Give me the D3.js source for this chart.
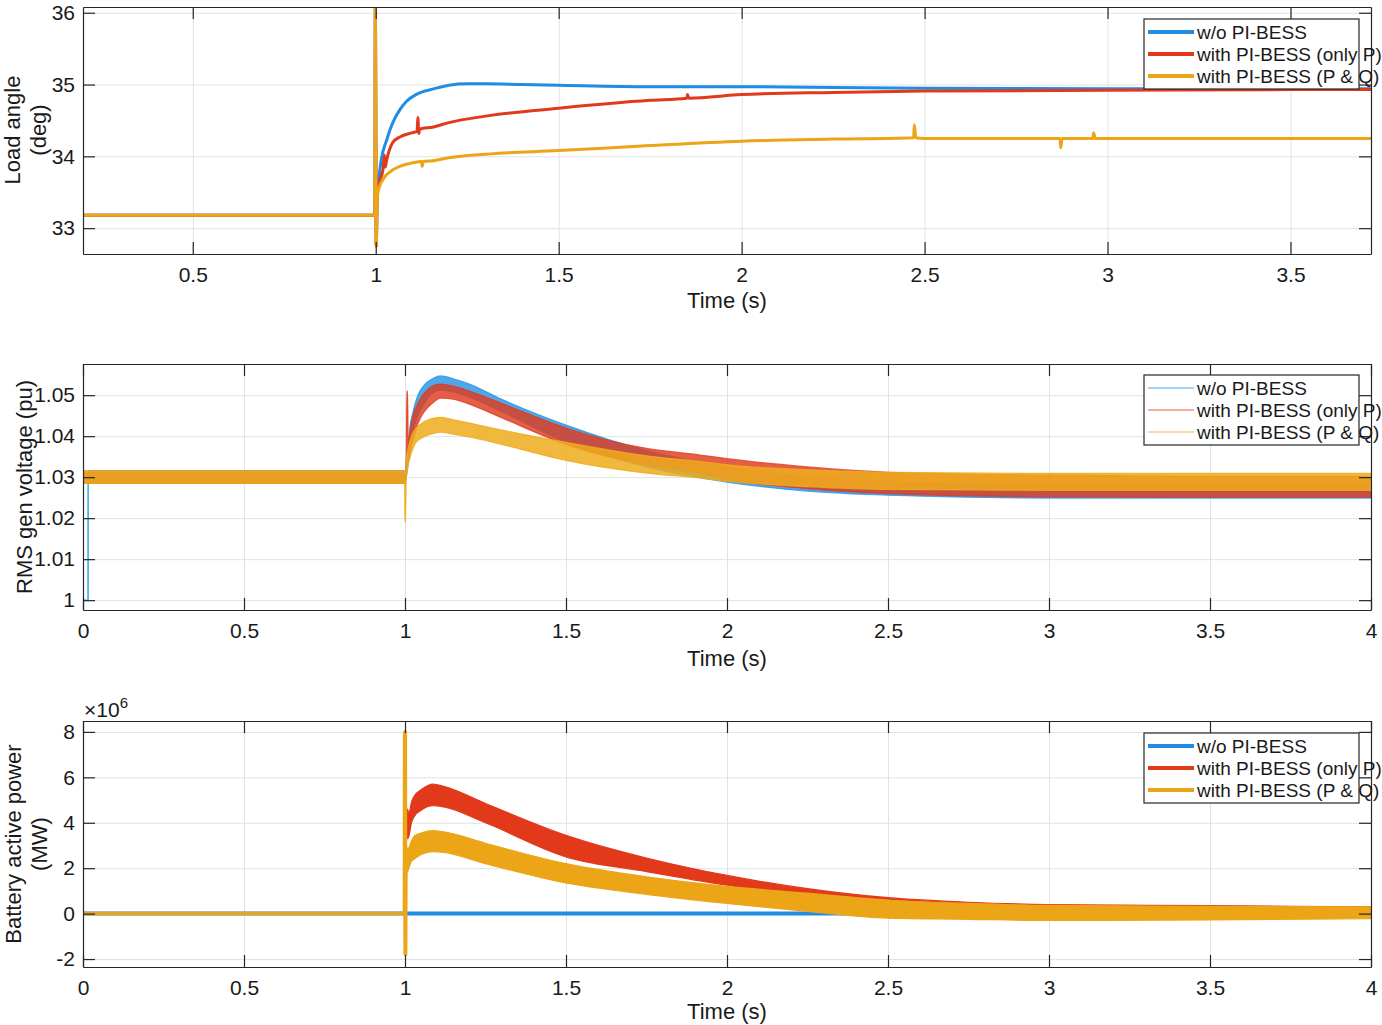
<!DOCTYPE html>
<html><head><meta charset="utf-8">
<script src="https://cdn.jsdelivr.net/npm/d3@7"></script>
<style>
body{margin:0;background:#fff}
svg text{font-family:"Liberation Sans",Arial,sans-serif;fill:#1a1a1a}
</style>
</head><body>
<svg id="chart" width="1382" height="1025"></svg>
<script>
// ---------- legend / labels ----------
const seriesNames = ["w/o PI-BESS", "with PI-BESS (only P)", "with PI-BESS (P & Q)"];
const seriesColors = ["#1f8ce6", "#e2391b", "#eca516"];

// ---------- Panel 1: Load angle (deg) ----------
const p1XTicks = [0.5, 1, 1.5, 2, 2.5, 3, 3.5];
const p1YTicks = [33, 34, 35, 36];
const laBlueT = [0.2, 0.998, 0.999, 1.0015, 1.004, 1.008, 1.015, 1.03, 1.045, 1.066, 1.085, 1.11, 1.135, 1.158, 1.2, 1.25, 1.3, 1.4, 1.5, 1.75, 2.0, 2.25, 2.5, 3.0, 3.5, 3.72];
const laBlue  = [33.18, 33.18, 36.1, 32.75, 33.5, 33.67, 33.95, 34.23, 34.45, 34.65, 34.77, 34.86, 34.91, 34.94, 34.99, 35.01, 35.01, 35.0, 34.99, 34.97, 34.97, 34.96, 34.95, 34.94, 34.94, 34.94];
const laRedT = [0.2, 0.998, 0.999, 1.0015, 1.004, 1.008, 1.02, 1.024, 1.026, 1.03, 1.046, 1.066, 1.101, 1.113, 1.115, 1.118, 1.12, 1.158, 1.2, 1.3, 1.5, 1.75, 1.85, 1.852, 1.856, 2.0, 2.25, 2.5, 3.0, 3.5, 3.72];
const laRed  = [33.18, 33.18, 36.1, 32.75, 33.45, 33.6, 33.82, 34.02, 33.85, 33.95, 34.19, 34.27, 34.33, 34.35, 34.54, 34.32, 34.38, 34.41, 34.47, 34.56, 34.67, 34.78, 34.81, 34.86, 34.81, 34.86, 34.89, 34.91, 34.92, 34.93, 34.93];
const laOrangeT = [0.2, 0.998, 0.999, 1.0015, 1.004, 1.008, 1.02, 1.046, 1.066, 1.101, 1.125, 1.127, 1.13, 1.158, 1.2, 1.3, 1.5, 1.75, 2.0, 2.25, 2.47, 2.472, 2.476, 2.5, 2.75, 2.87, 2.872, 2.876, 2.96, 2.962, 2.966, 3.0, 3.5, 3.72];
const laOrange  = [33.18, 33.18, 36.1, 32.75, 33.4, 33.54, 33.68, 33.81, 33.86, 33.91, 33.93, 33.86, 33.93, 33.94, 33.98, 34.03, 34.08, 34.15, 34.21, 34.24, 34.26, 34.44, 34.26, 34.25, 34.25, 34.25, 34.12, 34.25, 34.25, 34.33, 34.25, 34.25, 34.25, 34.25];

// ---------- Panel 2: RMS gen voltage (pu), oscillation envelopes ----------
const p2XTicks = [0, 0.5, 1, 1.5, 2, 2.5, 3, 3.5, 4];
const p2YTicks = [1, 1.01, 1.02, 1.03, 1.04, 1.05];
const vBlueT  = [0, 0.016, 0.0165, 0.5, 0.999, 1.0, 1.004, 1.008, 1.015, 1.025, 1.04, 1.06, 1.085, 1.11, 1.15, 1.2, 1.3, 1.5, 1.75, 2.0, 2.25, 2.5, 3.0, 3.5, 4.0];
const vBlueHi = [1.0, 1.0, 1.0315, 1.0315, 1.0315, 1.031, 1.033, 1.036, 1.042, 1.046, 1.050, 1.0525, 1.054, 1.0547, 1.054, 1.0527, 1.049, 1.0427, 1.0365, 1.0325, 1.0300, 1.0288, 1.0283, 1.0283, 1.0283];
const vBlueLo = [1.0, 1.0, 1.0285, 1.0285, 1.0285, 1.0285, 1.030, 1.032, 1.036, 1.041, 1.045, 1.048, 1.0505, 1.0512, 1.0508, 1.0495, 1.046, 1.0385, 1.0325, 1.0288, 1.0266, 1.0256, 1.0249, 1.0249, 1.0249];
const vRedT  = [0, 0.5, 0.999, 1.0, 1.004, 1.006, 1.008, 1.01, 1.015, 1.025, 1.04, 1.06, 1.085, 1.11, 1.15, 1.2, 1.3, 1.5, 1.75, 1.916, 2.0, 2.25, 2.5, 3.0, 3.5, 4.0];
const vRedHi = [1.0315, 1.0315, 1.0315, 1.031, 1.035, 1.051, 1.051, 1.038, 1.041, 1.045, 1.048, 1.0505, 1.0522, 1.0527, 1.0522, 1.051, 1.048, 1.042, 1.037, 1.0354, 1.0345, 1.0325, 1.0312, 1.0305, 1.0302, 1.0302];
const vRedLo = [1.0285, 1.0285, 1.0285, 1.029, 1.031, 1.040, 1.040, 1.034, 1.036, 1.039, 1.043, 1.046, 1.048, 1.0493, 1.049, 1.0478, 1.0445, 1.038, 1.033, 1.031, 1.0295, 1.0272, 1.026, 1.0252, 1.0251, 1.0251];
const vOrangeT  = [0, 0.5, 0.999, 1.0, 1.0015, 1.004, 1.01, 1.02, 1.03, 1.05, 1.08, 1.11, 1.15, 1.2, 1.3, 1.5, 1.75, 1.916, 2.0, 2.25, 2.5, 3.0, 3.5, 4.0];
const vOrangeHi = [1.0315, 1.0315, 1.0315, 1.0315, 1.031, 1.034, 1.037, 1.040, 1.0415, 1.043, 1.0442, 1.0446, 1.044, 1.0432, 1.0415, 1.0385, 1.0352, 1.0338, 1.033, 1.0318, 1.0312, 1.0309, 1.0309, 1.0309];
const vOrangeLo = [1.0285, 1.0285, 1.0285, 1.019, 1.019, 1.030, 1.033, 1.036, 1.038, 1.0395, 1.0405, 1.041, 1.0405, 1.0398, 1.038, 1.0341, 1.031, 1.0298, 1.029, 1.0277, 1.0270, 1.0268, 1.0268, 1.0268];

// ---------- Panel 3: Battery active power (x10^6) ----------
const p3XTicks = [0, 0.5, 1, 1.5, 2, 2.5, 3, 3.5, 4];
const p3YTicks = [-2, 0, 2, 4, 6, 8];
const pBlueT = [0, 1.0, 4.0];
const pBlue  = [0, 0, 0];
const pOrangeLineT = [0, 0.998, 0.999, 1.0005, 1.001, 1.002, 1.003, 1.004];
const pOrangeLine  = [0, 0, 8.0, -1.8, 8.0, -1.8, 2.2, 2.4];
const pBandT = [1.004, 1.008, 1.012, 1.02, 1.03, 1.05, 1.087, 1.12, 1.25, 1.5, 1.75, 2.0, 2.25, 2.5, 2.75, 3.0, 3.5, 4.0];
const pRedHi = [4.4, 4.6, 4.4, 4.9, 5.2, 5.45, 5.7, 5.6, 4.85, 3.45, 2.45, 1.68, 1.1, 0.7, 0.5, 0.4, 0.35, 0.3];
const pRedLo = [3.5, 3.3, 3.4, 4.0, 4.3, 4.55, 4.75, 4.7, 4.0, 2.5, 1.85, 1.25, 0.75, 0.4, 0.2, 0.1, 0.05, 0.0];
const pOrangeHi = [3.0, 2.85, 2.9, 3.2, 3.43, 3.55, 3.65, 3.6, 3.1, 2.2, 1.62, 1.2, 0.9, 0.6, 0.45, 0.36, 0.32, 0.3];
const pOrangeLo = [1.8, 1.84, 2.0, 2.3, 2.41, 2.6, 2.73, 2.7, 2.2, 1.35, 0.85, 0.45, 0.1, -0.2, -0.25, -0.3, -0.28, -0.22];

// ---------- drawing ----------
const svg = d3.select("#chart");
const L = 83, R = 1371, TICK = 12;
const FS_TICK = 21;

function makePanel(id, top, bottom, xDom, yDom, xTicks, yTicks, fmtY) {
  const x = d3.scaleLinear().domain(xDom).range([L, R]);
  const y = d3.scaleLinear().domain(yDom).range([bottom, top]);
  const g = svg.append("g");
  g.append("g").attr("transform", `translate(0,${bottom})`)
    .call(d3.axisBottom(x).tickValues(xTicks).tickSize(-(bottom - top)).tickFormat(""))
    .call(s => { s.select(".domain").remove(); s.selectAll("line").attr("stroke", "#dfe3e3").attr("stroke-width", 1); });
  g.append("g").attr("transform", `translate(${L},0)`)
    .call(d3.axisLeft(y).tickValues(yTicks).tickSize(-(R - L)).tickFormat(""))
    .call(s => { s.select(".domain").remove(); s.selectAll("line").attr("stroke", "#dfe3e3").attr("stroke-width", 1); });
  svg.append("clipPath").attr("id", id).append("rect")
    .attr("x", L).attr("y", top).attr("width", R - L).attr("height", bottom - top);
  const plot = svg.append("g").attr("clip-path", `url(#${id})`);
  const axes = svg.append("g");
  return { x, y, plot, axes, top, bottom, xTicks, yTicks, fmtY };
}

function finishAxes(p) {
  const { x, y, axes, top, bottom, xTicks, yTicks, fmtY } = p;
  const style = s => {
    s.select(".domain").attr("stroke", "#262626").attr("stroke-width", 1.2);
    s.selectAll(".tick line").attr("stroke", "#262626").attr("stroke-width", 1.2);
    s.selectAll("text").attr("font-size", FS_TICK).attr("fill", "#1a1a1a")
      .style("font-family", "'Liberation Sans', Arial, sans-serif");
  };
  axes.append("g").attr("transform", `translate(0,${bottom})`)
    .call(d3.axisBottom(x).tickValues(xTicks).tickSizeInner(-TICK).tickSizeOuter(0).tickPadding(13).tickFormat(d => String(d)))
    .call(style);
  axes.append("g").attr("transform", `translate(0,${top})`)
    .call(d3.axisTop(x).tickValues(xTicks).tickSizeInner(-TICK).tickSizeOuter(0).tickFormat(""))
    .call(style);
  axes.append("g").attr("transform", `translate(${L},0)`)
    .call(d3.axisLeft(y).tickValues(yTicks).tickSizeInner(-TICK).tickSizeOuter(0).tickPadding(8).tickFormat(fmtY))
    .call(style);
  axes.append("g").attr("transform", `translate(${R},0)`)
    .call(d3.axisRight(y).tickValues(yTicks).tickSizeInner(-TICK).tickSizeOuter(0).tickFormat(""))
    .call(style);
}

function drawLine(p, ts, vs, color, w) {
  const pts = ts.map((t, i) => [t, vs[i]]);
  p.plot.append("path").datum(pts)
    .attr("d", d3.line().curve(d3.curveMonotoneX).x(d => p.x(d[0])).y(d => p.y(d[1])))
    .attr("fill", "none").attr("stroke", color).attr("stroke-width", w)
    .attr("stroke-linejoin", "round");
}

function drawBand(p, ts, lo, hi, color, op) {
  const pts = ts.map((t, i) => [t, lo[i], hi[i]]);
  p.plot.append("path").datum(pts)
    .attr("d", d3.area().curve(d3.curveMonotoneX).x(d => p.x(d[0])).y0(d => p.y(d[1])).y1(d => p.y(d[2])))
    .attr("fill", color).attr("fill-opacity", op)
    .attr("stroke", color).attr("stroke-opacity", op).attr("stroke-width", 1.2);
}

function legend(top, lineW, colors) {
  const g = svg.append("g");
  g.append("rect").attr("x", 1144).attr("y", top).attr("width", 215).attr("height", 70)
    .attr("fill", "#fff").attr("stroke", "#262626").attr("stroke-width", 1.2);
  seriesNames.forEach((n, i) => {
    const cy = top + 13 + i * 22;
    g.append("line").attr("x1", 1148).attr("x2", 1194).attr("y1", cy).attr("y2", cy)
      .attr("stroke", colors[i]).attr("stroke-width", lineW);
    g.append("text").attr("x", 1197).attr("y", cy + 7).attr("font-size", 19).text(n);
  });
}

function yLabel(lines, cy) {
  lines.forEach(l => {
    svg.append("text").attr("transform", `translate(${l[0]},${cy}) rotate(-90)`)
      .attr("text-anchor", "middle").attr("font-size", 22).text(l[1]);
  });
}

function xLabel(yb) {
  svg.append("text").attr("x", (L + R) / 2).attr("y", yb).attr("text-anchor", "middle")
    .attr("font-size", 22).text("Time (s)");
}

// Panel 1
const p1 = makePanel("clip1", 7, 254, [0.2, 3.72], [32.64, 36.08], p1XTicks, p1YTicks, d => String(d));
drawLine(p1, laBlueT, laBlue, seriesColors[0], 3);
drawLine(p1, laRedT, laRed, seriesColors[1], 3);
drawLine(p1, laOrangeT, laOrange, seriesColors[2], 3);
finishAxes(p1);
legend(19, 4, seriesColors);
yLabel([[20, "Load angle"], [46, "(deg)"]], 130);
xLabel(308);

// Panel 2
const p2 = makePanel("clip2", 364, 610, [0, 4], [0.9976, 1.0576], p2XTicks, p2YTicks, d => String(+d.toFixed(2)));
drawBand(p2, vBlueT, vBlueLo, vBlueHi, "#2f98e6", 0.85);
drawLine(p2, [0.016, 0.016], [1.0, 1.0315], "#4fb3ea", 1.5);
drawBand(p2, vRedT, vRedLo, vRedHi, "#df3c1e", 0.82);
drawBand(p2, vOrangeT, vOrangeLo, vOrangeHi, "#eeab1c", 0.85);
finishAxes(p2);
legend(375, 1.2, ["#4aa8ee", "#ea5a3a", "#efb540"]);
yLabel([[32, "RMS gen voltage (pu)"]], 487);
xLabel(666);

// Panel 3
const p3 = makePanel("clip3", 721, 967, [0, 4], [-2.35, 8.48], p3XTicks, p3YTicks, d => String(d));
drawLine(p3, pBlueT, pBlue, seriesColors[0], 4);
drawBand(p3, pBandT, pRedLo, pRedHi, seriesColors[1], 1);
drawBand(p3, pBandT, pOrangeLo, pOrangeHi, seriesColors[2], 1);
drawLine(p3, pOrangeLineT, pOrangeLine, seriesColors[2], 3.5);
finishAxes(p3);
legend(733, 4, seriesColors);
yLabel([[21, "Battery active power"], [47, "(MW)"]], 844);
xLabel(1019);
// exponent label
const ex = svg.append("text").attr("x", 84).attr("y", 717).attr("font-size", 21);
ex.append("tspan").text("\u00d710");
ex.append("tspan").attr("dy", -9).attr("font-size", 15).text("6");
</script>
</body></html>
